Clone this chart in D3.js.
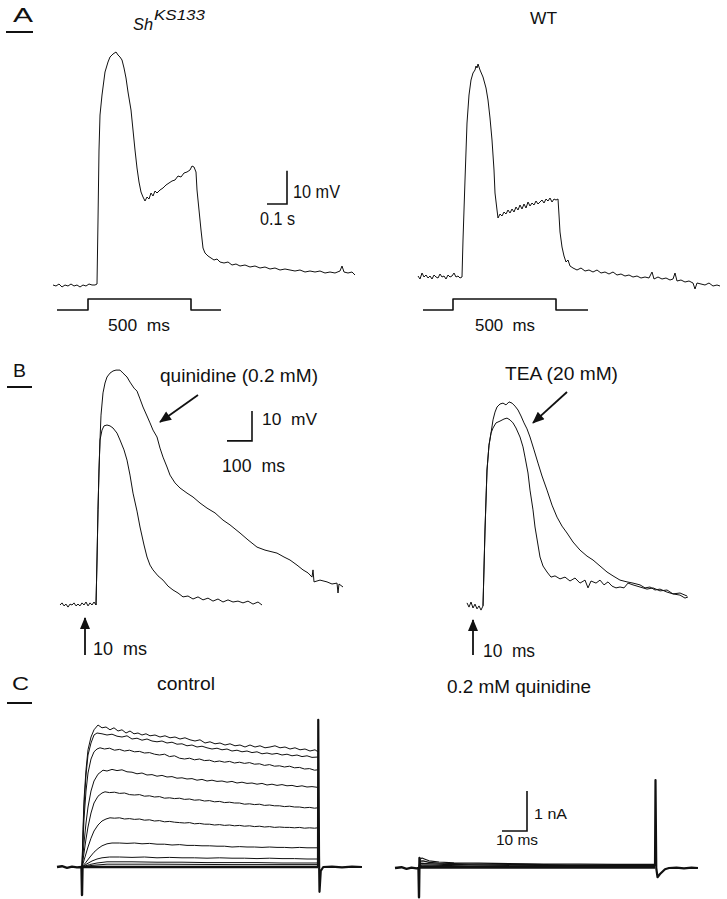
<!DOCTYPE html>
<html>
<head>
<meta charset="utf-8">
<script src="https://cdn.jsdelivr.net/npm/d3@7"></script>
<style>
  body { margin: 0; background: #fff; }
  text { font-family: "Liberation Sans", Arial, sans-serif; fill: #111; white-space: pre; }
</style>
</head>
<body>
<div id="graf"></div>
<script>
// -- A: voltage responses to a 500 ms current step (t in ms, V in mV above rest)
shKS133 = [[0,0],[15,-0.3],[30,0.3],[45,-0.6],[60,0],[75,-0.3],[90,0.3],[105,-0.3],[120,0],[135,-0.6],[150,0],[165,-0.3],[180,0.3],[195,0],[210,0],[220,0.3],
    [225,19.5],[230,40.5],[235,51],[245,57],[260,63.9],[275,66.9],[285,68.4],[300,69.3],[315,69.9],[325,69],[335,68.4],[345,67.5],[355,65.1],[365,62.1],[375,57.9],[390,52.5],[400,46.5],[410,40.5],[420,35.1],[430,30.9],[440,27.9],[450,26.4],[460,25.2],
    [470,26.4],[480,25.8],[490,27.6],[500,26.7],[510,28.2],[520,27.6],[535,28.5],[550,29.1],[565,30],[580,30.6],[595,31.2],[610,31.5],[625,32.7],[640,32.4],[655,33.6],[670,33.9],[685,34.5],[695,35.7],[705,35.4],[715,33.9],
    [720,28.5],[730,22.5],[740,16.5],[750,11.1],[760,9.6],[775,8.7],[790,8.1],[805,7.5],[820,7.8],[835,6.9],[855,6.6],[875,6.9],[895,6],[915,6.3],[935,5.7],[960,6],[985,5.4],[1010,5.7],[1035,5.1],[1060,5.4],[1085,4.8],[1110,5.1],[1135,4.5],[1160,4.8],[1185,4.5],[1210,4.2],[1235,4.5],[1260,3.9],[1285,4.2],[1310,3.9],[1335,4.2],[1360,3.6],[1385,3.9],[1410,3.6],[1435,4.2],[1445,5.7],[1455,3.9],[1475,3.6],[1495,3.9],[1510,3]]

wildType = [[0,0.3],[10,-0.6],[20,1.2],[30,0],[40,0.6],[50,-0.3],[60,0.3],[70,-0.6],[80,0.6],[90,0],[100,-0.3],[110,0.9],[120,0],[130,0.3],[140,-0.6],[150,0.6],[160,0],[170,0.3],[180,1.2],[190,0],[200,0.3],[210,-0.3],[220,0],
    [225,11.1],[235,29.1],[245,46.2],[255,54.6],[265,59.1],[275,61.2],[285,62.1],[290,63.3],[295,62.7],[300,63.9],[310,62.1],[325,60],[340,56.7],[350,53.1],[360,47.7],[370,41.1],[380,32.1],[385,25.2],[395,20.1],[400,17.7],
    [410,18.9],[420,18.3],[430,19.5],[440,18.9],[450,20.1],[460,19.2],[470,20.4],[480,19.5],[490,21],[500,20.1],[510,21.6],[520,20.4],[530,21.9],[540,20.7],[550,22.5],[560,21.3],[570,22.2],[580,21.6],[590,22.8],[600,21.9],[610,22.5],[620,23.1],[630,22.2],[640,23.4],[650,22.8],[660,23.7],[670,22.5],[680,23.4],[690,23.1],[700,23.4],
    [705,18.6],[710,13.5],[720,9],[730,6.3],[740,4.5],[750,5.1],[760,3.3],[775,2.7],[795,2.1],[815,2.7],[835,1.8],[855,2.1],[875,1.5],[895,2.1],[915,1.2],[935,1.5],[955,0.9],[975,1.5],[995,0.6],[1015,0.9],[1035,0.3],[1055,0.6],[1075,0],[1095,0.3],[1115,-0.3],[1135,0],[1155,-0.3],[1170,1.5],[1180,-0.6],[1200,0],[1220,-0.6],[1240,-0.3],[1260,-0.9],[1275,-0.6],[1285,1.2],[1295,-1.2],[1315,-0.9],[1335,-1.5],[1355,-1.2],[1375,-1.8],[1385,-3.6],[1395,-1.8],[1415,-2.1],[1435,-2.4],[1455,-1.8],[1475,-2.7],[1495,-2.4],[1510,-2.7]]

stimKS = [[20,0],[175,0],[175,1],[690,1],[690,0],[840,0]]
stimWT = [[25,0],[175,0],[175,1],[690,1],[690,0],[850,0]]

// -- B: action potentials after a 10 ms pulse, with drugs
quinidineAP = [[-144,0],[-136,0.7],[-128,-0.3],[-120,0.3],[-112,-0.7],[-104,0.3],[-96,0],[-88,0.7],[-80,-0.3],[-72,0.3],[-64,-0.3],[-56,0.7],[-48,0],[-40,1],[-32,-0.3],[-24,0.7],[-16,0],[-8,1],[0,0],
    [4,15],[8,31.7],[12,45],[16,55],[20,63.3],[28,70.7],[36,74],[44,76],[56,77.3],[68,78],[80,78.3],[96,78.3],[108,77.3],[124,76],[136,74.3],[152,72.3],[164,71.3],[176,68.7],[188,66],[204,63],[216,60.7],[228,58.3],[244,56],[256,52.3],[268,49.3],[284,46],[296,43.3],[316,40.7],[336,39],[364,37.3],[388,36],[416,34],[444,32.3],[476,30.7],[508,28.3],[536,26.7],[576,24],[608,21.7],[644,19.3],[676,18.3],[724,17.3],[752,16],[776,15],[804,13.3],[828,11.7],[848,10.7],[864,9.3],[868,11.7],[872,7.7],[896,8.3],[924,7.7],[944,7],[964,7.3],[968,4],[972,7],[988,6]]
controlAP1 = [[0,0],[4,15],[8,31.7],[12,45],[16,55],[24,58.3],[32,59.7],[44,60],[56,59.7],[68,59],[84,57.3],[96,55],[112,51.7],[124,48.3],[136,43.3],[148,37.3],[164,31.3],[176,26],[192,20],[204,16],[216,13.3],[228,11.7],[248,9.7],[268,8.3],[288,6.3],[308,5],[328,4],[348,2.7],[368,3],[388,2],[408,2.7],[428,1.7],[448,2.3],[468,1.3],[488,2],[508,1],[528,1.7],[548,1],[568,1.3],[588,0.7],[608,1.3],[628,0.3],[648,1],[664,0]]
teaAP = [[-64,0.7],[-56,-0.7],[-48,1],[-40,-1],[-32,0.3],[-24,-1.3],[-16,-0.3],[-8,-1.7],[0,-0.3],
    [8,25],[16,45],[24,53.3],[32,57.3],[40,61.7],[48,64.3],[56,66],[68,67],[80,67.3],[92,66.7],[104,67.7],[116,67.3],[128,66.3],[140,65],[152,63],[164,60.7],[176,58.7],[188,56],[204,51.7],[220,47.3],[236,43],[256,38.3],[276,33.3],[296,29.3],[316,26.3],[336,24],[360,21],[388,18.3],[416,16.3],[440,15],[468,13],[496,11],[520,9.7],[548,8.3],[576,7.7],[600,7.3],[628,6.7],[648,5.7],[668,6],[688,5],[708,5.3],[736,4.3],[760,3.7],[788,3.3],[808,2.3],[820,2.7]]
controlAP2 = [[0,-0.3],[8,25],[16,45],[24,53.3],[32,57.3],[40,59],[52,60.7],[68,61.3],[84,62],[96,62.3],[108,61.7],[120,60.7],[132,59],[148,56],[160,52.7],[168,49.3],[180,44],[188,38.3],[200,31.7],[208,26],[220,20],[228,16],[240,13],[256,11],[272,9.3],[288,9.7],[308,8.7],[328,9.3],[348,8],[368,9],[388,7.3],[408,8.3],[420,5.7],[432,8],[452,7.3],[468,8.3],[484,6.7],[500,7.7],[516,6.3],[532,5.7],[548,6],[564,5.7],[580,7.3],[600,6.7],[628,6],[656,5.3],[680,5.7],[708,4.7],[736,5],[760,3.7],[788,4],[816,3]]

// -- C: K+ currents during voltage steps (t in ms, I in nA)
controlCurrents = [
    [[0,0],[0.4,0.93],[0.8,1.68],[1.6,2.43],[2.4,2.93],[3.6,3.25],[4.8,3.43],[6.4,3.55],[8,3.48],[9.6,3.5],[11.2,3.43],[12.8,3.48],[14.4,3.4],[16,3.43],[17.6,3.35],[19.2,3.4],[20.8,3.33],[22.4,3.35],[24,3.3],[25.6,3.33],[27.2,3.28],[29.2,3.3],[31.2,3.25],[33.2,3.28],[35.2,3.23],[37.2,3.25],[39.2,3.2],[41.2,3.23],[43.2,3.18],[45.2,3.15],[47.2,3.18],[49.2,3.1],[51.2,3.13],[53.2,3.08],[55.2,3.1],[57.2,3.05],[59.2,3.08],[61.2,3.03],[63.2,3.05],[65.2,3],[67.2,3.05],[69.2,3],[71.2,3.03],[73.2,2.98],[75.2,3],[77.2,3.03],[79.2,2.98],[81.2,3],[83.2,2.95],[85.2,2.98],[87.2,2.93],[89.2,2.95],[91.2,2.9],[93.2,2.93],[94.4,2.88]],
    [[0,0],[0.4,0.8],[0.8,1.5],[1.6,2.3],[2.4,2.8],[3.6,3.1],[4.8,3.3],[6,3.35],[8,3.33],[10,3.3],[12,3.32],[14,3.27],[16,3.25],[18,3.28],[20,3.2],[22,3.22],[24,3.17],[26,3.2],[28,3.15],[30,3.13],[32,3.15],[34,3.1],[36,3.12],[38,3.07],[40,3.08],[42,3.03],[44,3.05],[46,3],[48,3.02],[50,2.98],[52,2.95],[54,2.97],[56,2.93],[58,2.95],[60,2.9],[62,2.92],[64,2.88],[66,2.9],[68,2.86],[70,2.88],[72,2.83],[74,2.85],[76,2.82],[78,2.84],[80,2.8],[82,2.82],[84,2.78],[86,2.8],[88,2.76],[90,2.78],[92,2.74],[94.4,2.75]],
    [[0,0],[0.4,0.6],[0.8,1.2],[1.6,1.9],[2.4,2.35],[3.6,2.7],[4.8,2.88],[6,2.95],[7.2,2.98],[9,2.95],[11,2.97],[13,2.92],[15,2.94],[17,2.9],[19,2.92],[21,2.88],[23,2.89],[25,2.85],[27,2.86],[29,2.82],[31,2.8],[33,2.82],[35,2.76],[37,2.78],[39,2.72],[41,2.7],[43,2.72],[45,2.68],[47,2.7],[49,2.66],[51,2.67],[53,2.63],[55,2.65],[57,2.62],[59,2.64],[61,2.6],[63,2.62],[65,2.59],[67,2.61],[69,2.57],[71,2.58],[73,2.54],[75,2.56],[77,2.52],[79,2.53],[81,2.5],[83,2.52],[85,2.48],[87,2.49],[89,2.45],[91,2.46],[93,2.42],[94.4,2.43]],
    [[0,0],[0.8,0.6],[1.6,1.1],[2.4,1.5],[3.6,1.9],[4.8,2.15],[6.4,2.32],[8.4,2.42],[10,2.4],[12,2.44],[14,2.41],[16,2.43],[18,2.38],[20,2.37],[22,2.33],[24,2.35],[26,2.3],[28,2.31],[30,2.27],[32,2.29],[34,2.25],[36,2.26],[38,2.22],[40,2.23],[42,2.2],[44,2.21],[46,2.17],[48,2.19],[50,2.15],[52,2.17],[54,2.14],[56,2.15],[58,2.12],[60,2.14],[62,2.1],[64,2.12],[66,2.09],[68,2.1],[70,2.07],[72,2.09],[74,2.05],[76,2.07],[78,2.04],[80,2.06],[82,2.03],[84,2.04],[86,2.01],[88,2.03],[90,2],[92,2.01],[94.4,1.99]],
    [[0,0],[0.8,0.35],[1.6,0.7],[2.4,1],[3.6,1.35],[4.8,1.6],[6.4,1.77],[8,1.85],[9.2,1.88],[11,1.86],[13,1.87],[15,1.84],[17,1.85],[19,1.81],[21,1.8],[23,1.81],[25,1.77],[27,1.78],[29,1.75],[31,1.76],[33,1.72],[35,1.73],[37,1.71],[39,1.72],[41,1.69],[43,1.7],[45,1.67],[47,1.68],[49,1.65],[51,1.66],[53,1.63],[55,1.64],[57,1.61],[59,1.62],[61,1.6],[63,1.6],[65,1.57],[67,1.58],[69,1.56],[71,1.57],[73,1.54],[75,1.55],[77,1.53],[79,1.53],[81,1.51],[83,1.52],[85,1.5],[87,1.5],[89,1.48],[91,1.49],[93,1.47],[94.4,1.48]],
    [[0,0],[1.2,0.25],[2.4,0.5],[3.6,0.72],[4.8,0.9],[6.4,1.05],[8,1.15],[9.6,1.2],[11.2,1.23],[13,1.22],[15,1.23],[17,1.2],[19,1.21],[21,1.19],[23,1.2],[25,1.17],[27,1.18],[29,1.15],[31,1.16],[33,1.13],[35,1.14],[37,1.12],[39,1.11],[41,1.1],[43,1.11],[45,1.08],[47,1.09],[49,1.07],[51,1.07],[53,1.05],[55,1.06],[57,1.04],[59,1.05],[61,1.03],[63,1.04],[65,1.02],[67,1.03],[69,1.01],[71,1.02],[73,1],[75,1.01],[77,0.99],[79,1],[81,0.99],[83,0.99],[85,0.98],[87,0.99],[89,0.97],[91,0.98],[93,0.97],[94.4,0.98]],
    [[0,0],[1.6,0.12],[3.2,0.25],[4.8,0.37],[6.4,0.46],[8,0.53],[10,0.58],[12,0.6],[15,0.6],[18,0.59],[21,0.6],[24,0.58],[27,0.59],[30,0.57],[33,0.57],[36,0.55],[39,0.56],[42,0.54],[45,0.54],[48,0.53],[51,0.53],[54,0.52],[57,0.52],[60,0.5],[63,0.51],[66,0.5],[69,0.5],[72,0.49],[75,0.5],[78,0.49],[81,0.49],[84,0.48],[87,0.49],[90,0.48],[94.4,0.48]],
    [[0,0],[2,0.08],[4,0.15],[6,0.2],[8,0.23],[11,0.25],[15,0.25],[20,0.24],[25,0.25],[30,0.23],[35,0.24],[40,0.23],[45,0.23],[50,0.22],[55,0.23],[60,0.22],[65,0.22],[70,0.21],[75,0.22],[80,0.21],[85,0.21],[90,0.2],[94.4,0.2]],
    [[0,0],[3,0.06],[6,0.1],[10,0.13],[20,0.13],[30,0.12],[40,0.12],[50,0.11],[60,0.11],[70,0.11],[80,0.1],[94.4,0.1]],
    [[0,0],[4,0.04],[10,0.07],[30,0.07],[60,0.06],[94.4,0.06]]
]
controlHoldPre = [[-10,0],[-8,0.02],[-6,-0.02],[-4,0.01],[-2,-0.01],[-0.2,0],[0,-0.7],[0.2,0]]
controlHoldPost = [[94.4,0],[94.5,3.68],[94.8,0.3],[95,-0.62],[95.5,-0.1],[96.5,0],[100,0.01],[104,-0.01],[108,0.01],[112,0]]

quinidineCurrents = [
    [[0,0],[0.4,0.22],[1.2,0.25],[2.4,0.22],[4,0.18],[8,0.15],[14,0.13],[24,0.12],[36,0.11],[50,0.1],[64,0.1],[78,0.09],[94.4,0.09]],
    [[0,0],[0.4,0.17],[1.6,0.18],[4,0.14],[8,0.12],[20,0.1],[40,0.09],[60,0.08],[80,0.08],[94.4,0.07]],
    [[0,0],[0.6,0.12],[3,0.11],[10,0.09],[30,0.07],[60,0.06],[94.4,0.06]],
    [[0,0],[1,0.08],[5,0.07],[20,0.05],[50,0.05],[94.4,0.04]],
    [[0,0],[2,0.04],[20,0.03],[94.4,0.02]]
]
quinHoldPre = [[-9.6,0],[-7,0.02],[-5,-0.02],[-3,0.01],[-1,-0.01],[-0.2,0],[0,-0.73],[0.2,0.25],[0.4,0]]
quinHoldPost = [[94.4,0.05],[94.6,2.2],[94.9,0],[95.4,-0.23],[96.4,-0.15],[98.4,-0.03],[100,0],[103,0.01],[106,-0.01],[109,0.01],[111.6,0]]

// -- Canvas
svg = d3.select('#graf').append('svg')
        .attr('width', 727)
        .attr('height', 899)

ink = '#111'

function trace (data, x, y, w) {
    svg.append('path')
        .datum(data)
        .attr('d', d3.line().x(d => x(d[0])).y(d => y(d[1])))
        .attr('fill', 'none')
        .attr('stroke', ink)
        .attr('stroke-width', w || 1)
        .attr('stroke-linejoin', 'round')
}

function label (x, y, str, size, len, italic) {
    t = svg.append('text')
        .attr('x', x)
        .attr('y', y)
        .attr('font-size', `${size}px`)
        .attr('font-style', italic ? 'italic' : 'normal')
        .text(str)
    if (len) t.attr('textLength', len).attr('lengthAdjust', 'spacingAndGlyphs')
}

function scaleBar (x, y, t0, v0, dt, dv) {
    svg.append('path')
        .attr('d', `M${x(t0 - dt)},${y(v0)}H${x(t0)}V${y(v0 + dv)}`)
        .attr('fill', 'none')
        .attr('stroke', ink)
        .attr('stroke-width', 1.6)
}

svg.append('defs').append('marker')
    .attr('id', 'head')
    .attr('viewBox', '0 0 12 10')
    .attr('refX', 11)
    .attr('refY', 5)
    .attr('markerWidth', 13)
    .attr('markerHeight', 10)
    .attr('markerUnits', 'userSpaceOnUse')
    .attr('orient', 'auto')
  .append('path')
    .attr('d', 'M0,0L12,5L0,10z')
    .attr('fill', ink)

function arrow (x, y, a, b) {
    svg.append('line')
        .attr('x1', x(a[0])).attr('y1', y(a[1]))
        .attr('x2', x(b[0])).attr('y2', y(b[1]))
        .attr('stroke', ink)
        .attr('stroke-width', 1.8)
        .attr('marker-end', 'url(#head)')
}

// -- Panel letters
panelLetters = [['A', 13, 22, 20, 20, 6, 33, 32], ['B', 13, 377, 18, 13, 7, 32, 387], ['C', 12, 690, 18, 17, 7, 32, 703]]
panelLetters.forEach(p => {
    label(p[1], p[2], p[0], p[3], p[4])
    svg.append('line')
        .attr('x1', p[5]).attr('x2', p[6])
        .attr('y1', p[7]).attr('y2', p[7])
        .attr('stroke', ink)
        .attr('stroke-width', 2)
})

// -- A
xA1 = d3.scaleLinear().domain([0, 1510]).range([53, 355])
xA2 = d3.scaleLinear().domain([0, 1510]).range([418, 720])
yA1 = d3.scaleLinear().domain([0, 70]).range([285, 285 - 70 / 0.3])
yA2 = d3.scaleLinear().domain([0, 70]).range([277, 277 - 70 / 0.3])
yStim = d3.scaleLinear().domain([0, 1]).range([310, 299])

trace(shKS133, xA1, yA1)
trace(wildType, xA2, yA2)
trace(stimKS, xA1, yStim, 1.6)
trace(stimWT, xA2, yStim, 1.6)
scaleBar(xA1, yA1, 1170, 24.3, 100, 10)

label(133, 30, 'Sh', 17, 20, true)
label(154, 20, 'KS133', 15, 51, true)
label(530, 24, 'WT', 17, 27)
label(293, 198, '10 mV', 18, 47)
label(260, 225, '0.1 s', 18, 35)
label(108, 331, '500  ms', 17, 62)
label(475, 331, '500  ms', 17, 60)

// -- B
xB1 = d3.scaleLinear().domain([-144, 988]).range([60, 343])
xB2 = d3.scaleLinear().domain([-64, 820]).range([467, 688])
yB = d3.scaleLinear().domain([0, 80]).range([605, 365])

trace(quinidineAP, xB1, yB)
trace(controlAP1, xB1, yB)
trace(teaAP, xB2, yB)
trace(controlAP2, xB2, yB)
scaleBar(xB1, yB, 624, 54.7, 100, 10)

arrow(xB1, yB, [408, 70], [256, 61])
arrow(xB2, yB, [336, 71], [200, 60.7])
arrow(xB1, yB, [-44, -16.7], [-44, -4.3])
arrow(xB2, yB, [-40, -16.7], [-40, -5])

label(160, 382, 'quinidine (0.2 mM)', 18, 158)
label(262, 425, '10  mV', 17, 55)
label(222, 472, '100  ms', 17.5, 63)
label(505, 380, 'TEA (20 mM)', 18, 113)
label(93, 655, '10  ms', 17.5, 54)
label(483, 657, '10  ms', 17.5, 52)

// -- C
xC1 = d3.scaleLinear().domain([-10, 112]).range([57, 362])
xC2 = d3.scaleLinear().domain([-9.6, 111.6]).range([395, 698])
yC1 = d3.scaleLinear().domain([0, 4]).range([867, 707])
yC2 = d3.scaleLinear().domain([0, 4]).range([868, 708])

controlCurrents.forEach(c => trace(c, xC1, yC1))
trace(controlHoldPre, xC1, yC1, 2.4)
trace(controlHoldPost, xC1, yC1, 2.2)
trace([[0, 0], [94.4, 0]], xC1, yC1, 2.6)

quinidineCurrents.forEach(c => trace(c, xC2, yC2, 1.2))
trace(quinHoldPre, xC2, yC2, 2.4)
trace(quinHoldPost, xC2, yC2, 2.2)
trace([[0, 0.02], [94.4, 0.02]], xC2, yC2, 3)
scaleBar(xC2, yC2, 43.2, 0.925, 10, 1)

label(157, 690, 'control', 18, 58)
label(447, 693, '0.2 mM quinidine', 18, 144)
label(534, 819, '1 nA', 15.5, 33)
label(496, 845, '10 ms', 15.5, 42)
</script>
</body>
</html>
